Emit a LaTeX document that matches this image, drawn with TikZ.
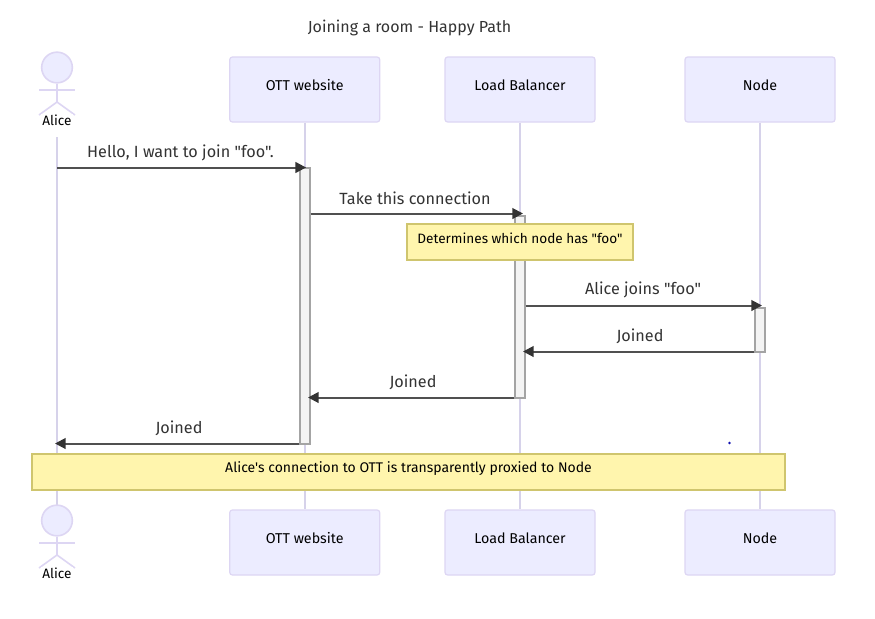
\documentclass[tikz,border=0pt]{standalone}
\usepackage{fontspec}
\setmainfont[Ligatures=TeXOff]{Fira Sans}
\usetikzlibrary{arrows.meta}
\definecolor{actfill}{HTML}{ECECFF}
\definecolor{actline}{HTML}{DDD6F3}
\definecolor{lifeln}{HTML}{D6D2EA}
\definecolor{notefill}{HTML}{FFF5AD}
\definecolor{noteline}{HTML}{CFC56E}
\definecolor{msgline}{HTML}{505050}
\definecolor{tipcol}{HTML}{333333}
\definecolor{actvfill}{HTML}{F4F4F4}
\definecolor{actvline}{HTML}{A4A4A4}
\definecolor{txtcol}{HTML}{333333}
\definecolor{dotcol}{HTML}{1010B0}
\newcommand{\boxlabel}[1]{\raisebox{-0.4pt}[0pt][0pt]{#1}}
\tikzset{
  x=0.75pt,y=-0.75pt,
  actorbox/.style={draw=actline,fill=actfill,line width=0.9pt,rounded corners=2pt,minimum width=112.5pt,minimum height=48.75pt,inner sep=0pt,font=\fontsize{10.7}{12}\selectfont,text=black},
  stick/.style={draw=actline,line width=1.2pt},
  headc/.style={circle,draw=actline,fill=actfill,line width=1.2pt,minimum size=23pt,inner sep=0pt},
  actorlabel/.style={inner sep=0pt,font=\fontsize{10.2}{12}\selectfont,text=black},
  life/.style={draw=lifeln,line width=1.4pt},
  actv/.style={draw=actvline,fill=actvfill,line width=0.85pt,minimum width=7.5pt,inner sep=0pt},
  msg/.style={draw=msgline,line width=1.5pt,-{Triangle[length=8pt,width=8pt,color=tipcol]}},
  msglabel/.style={inner sep=0pt,font=\fontsize{12.15}{14}\selectfont,text=txtcol},
  notebox/.style={draw=noteline,fill=notefill,line width=1pt,inner sep=0pt,minimum height=27pt},
  notetext/.style={inner sep=0pt,text=black},
}
\begin{document}
\begin{tikzpicture}
\useasboundingbox (0,0) rectangle (875,618);
\fill[white] (0,0) rectangle (875,618);
\node[inner sep=0pt,font=\fontsize{12}{14}\selectfont,text=txtcol] (title) at (409.5,27.8) {Joining a room - Happy Path};
% actors
\node[actorbox] (ottT) at (304.75,89.5) {\boxlabel{OTT website}};
\node[actorbox] (lbT) at (520,89.5) {\boxlabel{Load Balancer}};
\node[actorbox] (nodeT) at (760,89.5) {\boxlabel{Node}};
\node[actorbox] (ottB) at (304.75,542.5) {\boxlabel{OTT website}};
\node[actorbox] (lbB) at (520,542.5) {\boxlabel{Load Balancer}};
\node[actorbox] (nodeB) at (760,542.5) {\boxlabel{Node}};
\coordinate (aliceLT) at (57,137);
\coordinate (aliceLB) at (57,505);
% lifelines
\draw[life] (aliceLT) -- (aliceLB);
\draw[life] (ottT) -- (ottB);
\draw[life] (lbT) -- (lbB);
\draw[life] (nodeT) -- (nodeB);
% stick figures
\node[headc] (headT) at (57,67.5) {};
\node[headc] (headB) at (57,520.5) {};
\foreach \h/\o in {headT/0,headB/453}{
  \draw[stick] (\h.south) -- (57,102+\o);
  \draw[stick] (39,90+\o) -- (75,90+\o);
  \draw[stick] (39,115+\o) -- (57,102+\o) -- (75,115+\o);
}
\node[actorlabel,fill=white,inner xsep=1pt,inner ysep=0.5pt] (aliceT) at (57,120.5) {Alice};
\node[actorlabel,fill=white,inner xsep=1pt,inner ysep=0.5pt] (aliceB) at (57,573.5) {Alice};
% activations
\node[actv,minimum height=207pt] (actO) at (305,306) {};
\node[actv,minimum height=136.5pt] (actL) at (520,307) {};
\node[actv,minimum height=33pt] (actN) at (760,330) {};
% messages
\coordinate (m1s) at (57,167.5); \coordinate (m1e) at (actO.north west |- m1s);
\draw[msg] (m1s) -- ([xshift=5pt]m1e);
\node[msglabel] (l1) at (180.5,152.5) {Hello, I want to join "foo".};
\coordinate (m2s) at (actO.east |- 0,213.5); \coordinate (m2e) at (523,213.5);
\draw[msg] (m2s) -- (m2e);
\node[msglabel] (l2) at (415,198) {Take this connection};
\coordinate (m3s) at (actL.east |- 0,305.5); \coordinate (m3e) at (762,305.5);
\draw[msg] (m3s) -- (m3e);
\node[msglabel] (l3) at (643,290) {Alice joins "foo"};
\coordinate (m4s) at (actN.west |- 0,351.5); \coordinate (m4e) at (523,351.5);
\draw[msg] (m4s) -- (m4e);
\node[msglabel] (l4) at (640,336) {Joined};
\coordinate (m5s) at (actL.west |- 0,397.5); \coordinate (m5e) at (308,397.5);
\draw[msg] (m5s) -- (m5e);
\node[msglabel] (l5) at (413,382) {Joined};
\coordinate (m6s) at (actO.west |- 0,443.5); \coordinate (m6e) at (55,443.5);
\draw[msg] (m6s) -- (m6e);
\node[msglabel] (l6) at (179,428) {Joined};
% notes
\node[notebox,minimum width=169.5pt] (n1) at (520,242) {};
\node[notetext,font=\fontsize{10.2}{12}\selectfont] (n1t) at (520,238.5) {Determines which node has "foo"};
\node[notebox,minimum width=564.75pt] (n2) at (408.5,472) {};
\node[notetext,font=\fontsize{10.5}{12}\selectfont] (n2t) at (408.5,469) {Alice's connection to OTT is transparently proxied to Node};
\fill[dotcol] (729.5,443) circle (1.1pt);
\end{tikzpicture}
\end{document}
